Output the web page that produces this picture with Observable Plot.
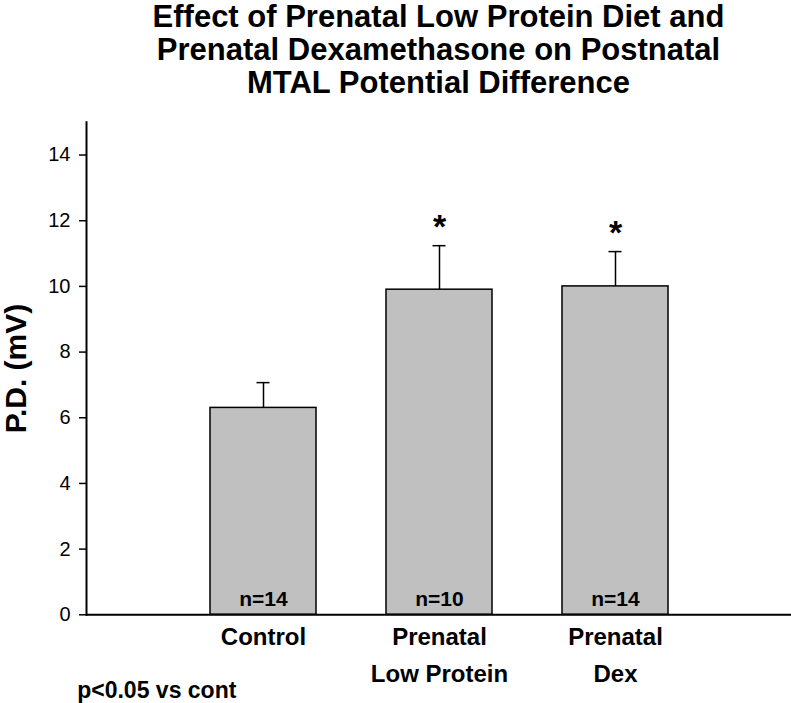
<!DOCTYPE html>
<html>
<head>
<meta charset="utf-8">
<script src="https://cdn.jsdelivr.net/npm/d3@7"></script>
<script src="https://cdn.jsdelivr.net/npm/@observablehq/plot@0.6"></script>
<style>
  html, body { margin: 0; padding: 0; background: #fff; }
  body { width: 791px; height: 703px; overflow: hidden; font-family: "Liberation Sans", Arial, sans-serif; }
  #title { font-weight: bold; font-size: 31px; line-height: 33px; text-align: center;
           padding-left: 86px; margin-top: 0; color: #000; }
</style>
</head>
<body>
<div id="title">Effect of Prenatal Low Protein Diet and<br>Prenatal Dexamethasone on Postnatal<br>MTAL Potential Difference</div>
<div id="chart"></div>
<script>
const groups = ["Control", "Prenatal Low Protein", "Prenatal Dex"];
const tickLabels = ["Control", "Prenatal\nLow Protein", "Prenatal\nDex"];
const means = [6.3, 9.9, 10.0];
const sems = [0.77, 1.34, 1.06];
const counts = [14, 10, 14];
const significant = [false, true, true];
const yTicks = [0, 2, 4, 6, 8, 10, 12, 14];
const yLabel = "P.D. (mV)";
const note = "p<0.05 vs cont";

const data = groups.map((g, i) => ({group: g, mean: means[i], sem: sems[i], n: counts[i], sig: significant[i]}));

const font = "Liberation Sans, Arial, sans-serif";

const chart = Plot.plot({
  width: 791,
  height: 604,
  marginTop: 22.7,
  marginBottom: 88.7,
  marginLeft: 86,
  marginRight: 0,
  style: {fontFamily: font, fontSize: "20px", color: "#000", background: "#fff", overflow: "visible"},
  x: {domain: groups, paddingInner: 0.4, paddingOuter: 0.7, label: null},
  y: {domain: [0, 15], label: null},
  marks: [
    Plot.barY(data, {x: "group", y: "mean", fill: "#c0c0c0", stroke: "#000", strokeWidth: 1.5}),
    Plot.ruleX(data, {x: "group", y1: "mean", y2: d => d.mean + d.sem, stroke: "#000", strokeWidth: 1.5}),
    Plot.tickY(data, {x: "group", y: d => d.mean + d.sem, stroke: "#000", strokeWidth: 1.5, insetLeft: 46.5, insetRight: 46.5}),
    Plot.text(data.filter(d => d.sig), {x: "group", y: d => d.mean + d.sem, text: () => "*", lineAnchor: "bottom", dy: -8, fontSize: 34, fontWeight: "bold"}),
    Plot.text(data, {x: "group", frameAnchor: "bottom", text: d => "n=" + d.n, lineAnchor: "bottom", dy: -9.3, fontSize: 21, fontWeight: "bold"}),
    Plot.ruleY([0], {stroke: "#000", strokeWidth: 2}),
    Plot.frame({anchor: "left", stroke: "#000", strokeWidth: 2}),
    Plot.axisY({ticks: yTicks, tickSize: 7, tickPadding: 9, fontSize: 20, strokeWidth: 1.5, label: null}),
    Plot.axisX({tickSize: 0, tickPadding: 4, fontSize: 24, fontWeight: "bold", lineHeight: 1.53,
                tickFormat: d => tickLabels[groups.indexOf(d)], label: null}),
    Plot.text([yLabel], {text: d => d, frameAnchor: "left", rotate: -90, dx: -70, textAnchor: "middle", lineAnchor: "middle", fontSize: 30, fontWeight: "bold"}),
    Plot.text([note], {text: d => d, frameAnchor: "bottom-left", textAnchor: "start", lineAnchor: "bottom", dx: -9.3, dy: 82.7, fontSize: 23, fontWeight: "bold"})
  ]
});
document.getElementById("chart").appendChild(chart);
</script>
</body>
</html>
